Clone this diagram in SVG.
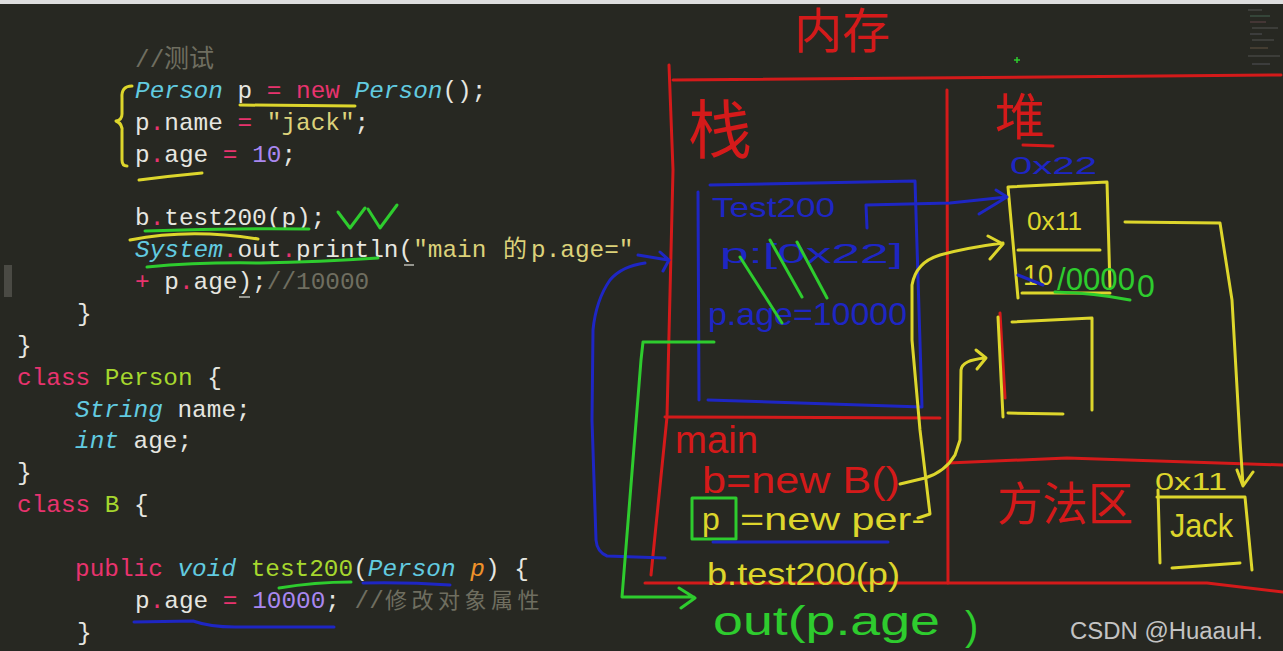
<svg xmlns="http://www.w3.org/2000/svg" width="1283" height="651" viewBox="0 0 1283 651">
<style>
.code{font-family:"Liberation Mono","Noto Sans CJK SC",monospace;font-size:24.4px;white-space:pre}
.cj{font-family:"Noto Sans CJK SC",sans-serif}
.k{fill:#e8336e}.t{fill:#62cbe0;font-style:italic}.f{fill:#a6d72e}.s{fill:#dcd27a}
.n{fill:#a987f0}.w{fill:#e6e6e0}.g{fill:#6f6e60}.o{fill:#f0922a;font-style:italic}
.ln{fill:none;stroke-width:3;stroke-linecap:round;stroke-linejoin:round}
.R{stroke:#d41a1a}.B{stroke:#1e26c4}.G{stroke:#2ecc2e}.Y{stroke:#ddd62c}
.hand{font-family:"Liberation Sans","Noto Sans CJK SC",sans-serif;white-space:pre}
.hr{fill:#d41a1a}.hb{fill:#1e26c4}.hg{fill:#2ecc2e}.hy{fill:#ddd62c}
</style>
<rect x="0" y="0" width="1283" height="651" fill="#272822"/>
<rect x="0" y="0" width="1283" height="4" fill="#dedede"/>
<rect x="4" y="265" width="8" height="32" fill="#4a4a44"/>
<g id="minimap" stroke-width="1" opacity="0.45">
<line x1="1248" y1="10" x2="1262" y2="10" stroke="#888"/>
<line x1="1250" y1="16" x2="1270" y2="16" stroke="#6a8"/>
<line x1="1250" y1="22" x2="1266" y2="22" stroke="#a67"/>
<line x1="1252" y1="28" x2="1278" y2="28" stroke="#888"/>
<line x1="1250" y1="34" x2="1262" y2="34" stroke="#889"/>
<line x1="1252" y1="40" x2="1274" y2="40" stroke="#888"/>
<line x1="1250" y1="48" x2="1268" y2="48" stroke="#a86"/>
<line x1="1248" y1="56" x2="1280" y2="56" stroke="#888"/>
<line x1="1252" y1="64" x2="1270" y2="64" stroke="#889"/>
</g>
<g id="code" class="code">
<text x="135" y="67"><tspan class="g">//</tspan><tspan class="g cj" x="164" font-size="25">测试</tspan></text>
<text x="135" y="98"><tspan class="t">Person</tspan><tspan class="w"> p </tspan><tspan class="k">= new</tspan><tspan class="w"> </tspan><tspan class="t">Person</tspan><tspan class="w">();</tspan></text>
<text x="135" y="130"><tspan class="w">p</tspan><tspan class="k">.</tspan><tspan class="w">name </tspan><tspan class="k">=</tspan><tspan class="w"> </tspan><tspan class="s">"jack"</tspan><tspan class="w">;</tspan></text>
<text x="135" y="162"><tspan class="w">p</tspan><tspan class="k">.</tspan><tspan class="w">age </tspan><tspan class="k">=</tspan><tspan class="w"> </tspan><tspan class="n">10</tspan><tspan class="w">;</tspan></text>
<text x="135" y="225"><tspan class="w">b</tspan><tspan class="k">.</tspan><tspan class="w">test200(p);</tspan></text>
<text x="135" y="257"><tspan class="t">System</tspan><tspan class="k">.</tspan><tspan class="w">out</tspan><tspan class="k">.</tspan><tspan class="w">println(</tspan><tspan class="s">"main </tspan><tspan class="s cj" x="503" font-size="24">的</tspan><tspan class="s" x="531">p.age="</tspan></text>
<text x="135" y="289"><tspan class="k">+</tspan><tspan class="w"> p</tspan><tspan class="k">.</tspan><tspan class="w">age);</tspan><tspan class="g">//10000</tspan></text>
<text x="77" y="321" class="w">}</text>
<text x="17" y="353" class="w">}</text>
<text x="17" y="385"><tspan class="k">class</tspan><tspan class="f"> Person</tspan><tspan class="w"> {</tspan></text>
<text x="75" y="417"><tspan class="t">String</tspan><tspan class="w"> name;</tspan></text>
<text x="75" y="448"><tspan class="t">int</tspan><tspan class="w"> age;</tspan></text>
<text x="17" y="480" class="w">}</text>
<text x="17" y="512"><tspan class="k">class</tspan><tspan class="f"> B</tspan><tspan class="w"> {</tspan></text>
<text x="75" y="576"><tspan class="k">public</tspan><tspan class="w"> </tspan><tspan class="t">void</tspan><tspan class="w"> </tspan><tspan class="f">test200</tspan><tspan class="w">(</tspan><tspan class="t">Person</tspan><tspan class="w"> </tspan><tspan class="o">p</tspan><tspan class="w">) {</tspan></text>
<text x="135" y="608"><tspan class="w">p</tspan><tspan class="k">.</tspan><tspan class="w">age </tspan><tspan class="k">=</tspan><tspan class="w"> </tspan><tspan class="n">10000</tspan><tspan class="w">; </tspan><tspan class="g">//</tspan><tspan class="g cj" x="385" font-size="22" letter-spacing="4.5">修改对象属性</tspan></text>
<text x="77" y="640" class="w">}</text>
<line x1="404" y1="265" x2="414" y2="265" stroke="#bbbbb4" stroke-width="1.5"/>
<line x1="239" y1="297" x2="250" y2="297" stroke="#bbbbb4" stroke-width="1.5"/>
</g>
<g id="code-marks" class="ln">
<path class="Y" d="M132,86 Q121,86 122,98 L122,114 Q122,120 116,121 Q123,124 122,132 L122,160 Q122,166 127,166"/>
<path class="Y" d="M240,105 L355,106"/>
<path class="Y" d="M139,180 Q170,176 202,173"/>
<path class="G" d="M145,231 Q230,228 309,229"/>
<path class="Y" d="M130,240 Q190,228 258,239"/>
<path class="G" d="M338,212 L350,228 L365,208 M368,209 L380,228 L397,205"/>
<path class="G" d="M147,267 Q200,262 260,263 Q320,262 378,258"/>
<path class="G" d="M279,588 Q315,582 351,582"/>
<path class="B" d="M363,583 Q405,582 450,585"/>
<path class="B" d="M134,622 L193,621 Q210,627 235,627 L334,627"/>
</g>
<g id="memory-frame" class="ln R">
<path d="M669,65 L673,170 L667,417 L651,575"/>
<path d="M673,80 L1281,75"/>
<path d="M947,90 L948,583"/>
<path d="M665,417 L940,418"/>
<path d="M948,463 L1067,458 L1283,465"/>
<path d="M645,583 L1207,583 L1283,592"/>
<path d="M1000,313 L1005,398"/>
<path d="M1023,145 L1053,146"/>
</g>
<g id="labels" class="hand">
<text x="794" y="48" font-size="48" class="hr" textLength="96" lengthAdjust="spacingAndGlyphs">内存</text>
<text x="688" y="153" font-size="64" class="hr">栈</text>
<text x="995" y="135" font-size="50" class="hr">堆</text>
<text x="997" y="520" font-size="46" class="hr" textLength="136" lengthAdjust="spacingAndGlyphs">方法区</text>
<path d="M1014,60 L1020,60 M1017,57 L1017,63" stroke="#2ecc2e" stroke-width="1.5"/>
</g>
<g id="stack-test200">
<path class="ln B" d="M698,192 L699,400 M710,185 L915,181 L922,407 L708,400"/>
<text class="hand hb" x="712" y="217" font-size="28" textLength="123" lengthAdjust="spacingAndGlyphs">Test200</text>
<text class="hand hb" x="720" y="263" font-size="28" textLength="183" lengthAdjust="spacingAndGlyphs">p:[0x22]</text>
<text class="hand hb" x="708" y="325" font-size="32" textLength="199" lengthAdjust="spacingAndGlyphs">p.age=10000</text>
<path class="ln G" d="M740,257 L782,323 M770,240 L802,297 M797,242 L827,298"/>
</g>
<g id="stack-main">
<text class="hand hr" x="675" y="453" font-size="38" textLength="83" lengthAdjust="spacingAndGlyphs">main</text>
<text class="hand hr" x="702" y="493" font-size="36" textLength="198" lengthAdjust="spacingAndGlyphs">b=new B()</text>
<rect class="ln G" x="692" y="498" width="44" height="41"/>
<text class="hand hy" x="702" y="530" font-size="32">p</text>
<text class="hand hy" x="740" y="530" font-size="32" textLength="185" lengthAdjust="spacingAndGlyphs">=new per-</text>
<text class="hand hy" x="707" y="585" font-size="32" textLength="193" lengthAdjust="spacingAndGlyphs">b.test200(p)</text>
</g>
<g id="heap-person">
<text class="hand hb" x="1010" y="174" font-size="24" textLength="87" lengthAdjust="spacingAndGlyphs">0x22</text>
<path class="ln Y" d="M1008,187 L1107,182 L1110,287 M1008,187 L1018,298 M1022,293 L1110,293 M1018,250 L1100,250"/>
<text class="hand hy" x="1027" y="230" font-size="26" textLength="55" lengthAdjust="spacingAndGlyphs">0x11</text>
<text class="hand hy" x="1023" y="285" font-size="30" textLength="30" lengthAdjust="spacingAndGlyphs">10</text>
<text class="hand hg" x="1057" y="290" font-size="32" textLength="78" lengthAdjust="spacingAndGlyphs">/0000</text>
<text class="hand hg" x="1137" y="297" font-size="32">0</text>
<path class="ln B" d="M1018,275 L1043,285"/>
<path class="ln G" d="M1055,292 Q1095,293 1130,300"/>
</g>
<g id="heap-b">
<path class="ln Y" d="M1012,322 L1092,318 L1092,410 M998,317 L1003,417 M1008,413 L1063,414"/>
</g>
<g id="method-area">
<text class="hand hy" x="1155" y="490" font-size="24" textLength="72" lengthAdjust="spacingAndGlyphs">0x11</text>
<path class="ln Y" d="M1157,497 L1245,497 L1252,570 M1158,490 L1160,563 M1172,568 L1240,563"/>
<text class="hand hy" x="1170" y="537" font-size="34" textLength="63" lengthAdjust="spacingAndGlyphs">Jack</text>
</g>
<g id="output">
<text class="hand hg" x="713" y="635" font-size="40" textLength="227" lengthAdjust="spacingAndGlyphs">out(p.age</text>
<text class="hand hg" x="965" y="640" font-size="40">)</text>
</g>
<g id="connectors" class="ln">
<path class="B" d="M665,558 L607,556 Q597,552 596,540 L592,420 L593,330 Q596,300 610,280 Q622,266 645,263"/>
<path class="B" d="M638,255 L668,260 M660,252 L669,260 L663,271"/>
<path class="B" d="M867,228 L866,205 L950,203 L1007,197 M979,214 L1007,197 L996,190"/>
<path class="B" d="M713,542 L888,542"/>
<path class="G" d="M714,342 L643,342 L641,360 L622,597 L694,597 M679,588 L695,598 L681,608"/>
<path class="Y" d="M918,518 L930,514 L920,430 L912,340 L912,285 Q916,262 940,255 Q965,248 1003,243 M988,236 L1003,244 L990,259"/>
<path class="Y" d="M900,484 L925,478 Q945,472 955,455 L960,440 L961,370 Q962,360 985,358 M976,350 L986,358 L977,369"/>
<path class="Y" d="M1125,222 L1220,223 L1232,300 L1240,440 L1243,485 M1237,470 L1243,486 L1253,472"/>
</g>
<text x="1070" y="639" font-family="Liberation Sans, sans-serif" font-size="23" fill="#c4c4c4" textLength="193" lengthAdjust="spacingAndGlyphs">CSDN @HuaauH.</text>
</svg>
